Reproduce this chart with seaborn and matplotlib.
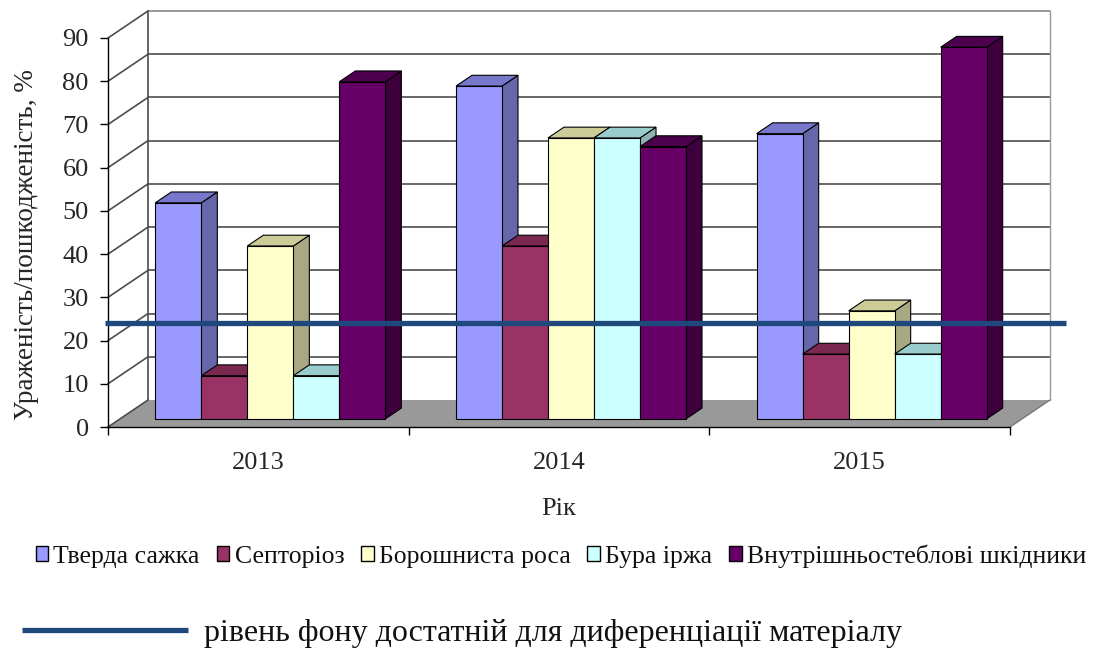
import matplotlib
matplotlib.use("Agg")
import matplotlib.pyplot as plt
import matplotlib.colors as mcolors
import seaborn as sns
import pandas as pd
import numpy as np
from matplotlib.patches import Polygon, Rectangle
from matplotlib.lines import Line2D

# ---------------- data ----------------
years = ["2013", "2014", "2015"]
diseases = ["Тверда сажка", "Септоріоз", "Борошниста роса", "Бура іржа",
            "Внутрішньостеблові шкідники"]
tverda_sazhka = [50, 77, 66]
septorioz = [10, 40, 15]
boroshnysta_rosa = [40, 65, 25]
bura_irzha = [10, 65, 15]
vnutrishnosteblovi = [78, 63, 86]
threshold = 24
threshold_label = "рівень фону достатній для диференціації матеріалу"
y_ticks = [0, 10, 20, 30, 40, 50, 60, 70, 80, 90]
x_label = "Рік"
y_label = "Ураженість/пошкодженість, %"

# ---------------- styles ----------------
face_colors = ["#9999FF", "#993366", "#FFFFCC", "#CCFFFF", "#660066"]
side_colors = ["#6666AA", "#6B2347", "#A8A882", "#8FB3B3", "#3D003D"]
top_colors = ["#7777CC", "#7A2850", "#CCCC99", "#99CCCC", "#4D004D"]
grid_color = "#4d4d4d"
line_color = "#1F497D"

sns.set_theme(style="white")
plt.rcParams["font.family"] = ["Liberation Serif", "DejaVu Serif"]
plt.rcParams["text.color"] = "#111111"

series = [tverda_sazhka, septorioz, boroshnysta_rosa, bura_irzha, vnutrishnosteblovi]
df = pd.DataFrame([
    {"Рік": y, "Хвороба": d, "Значення": vals[i]}
    for d, vals in zip(diseases, series) for i, y in enumerate(years)
])

W, H = 1100, 650
fig = plt.figure(figsize=(W / 100, H / 100), dpi=100)
ax = fig.add_axes([108 / W, 223 / H, 902 / W, 389 / H])

sns.barplot(data=df, x="Рік", y="Значення", hue="Хвороба", order=years,
            hue_order=diseases, palette=face_colors, saturation=1,
            width=0.765, edgecolor="black", linewidth=0.8, ax=ax, legend=True)

handles, labels = ax.get_legend_handles_labels()
if ax.get_legend() is not None:
    ax.get_legend().remove()

ax.set_xlim(-0.5, 2.5)
ax.set_ylim(0, 90)


def px_to_data(dxp, dyp):
    o = ax.transData.transform((0, 0))
    p = ax.transData.inverted().transform((o[0] + dxp, o[1] + dyp))
    return p[0], p[1]


DX, DY = px_to_data(40, 27)          # full depth of the 3D box
SX, SY = 0.3 * DX, 0.3 * DY          # bar position in depth
BX, BY = 0.4 * DX, 0.4 * DY          # bar depth
x_lo, x_hi = ax.get_xlim()
y_top = ax.get_ylim()[1]

# floor
ax.add_patch(Polygon([(x_lo, 0), (x_hi, 0), (x_hi + DX, DY), (x_lo + DX, DY)],
                     closed=True, facecolor="#999999", edgecolor="none",
                     zorder=1, clip_on=False))
# left wall diagonals and back gridlines
for v in y_ticks:
    ax.add_line(Line2D([x_lo, x_lo + DX], [v, v + DY], color=grid_color,
                       lw=1.2, zorder=1.1, clip_on=False))
    if v > 0:
        ax.add_line(Line2D([x_lo + DX, x_hi + DX], [v + DY, v + DY],
                           color=grid_color if v < y_top else "#888888",
                           lw=1.2, zorder=0.9, clip_on=False))
ax.add_line(Line2D([x_lo + DX, x_lo + DX], [DY, y_top + DY], color=grid_color,
                   lw=1.2, zorder=0.9, clip_on=False))
ax.add_line(Line2D([x_hi + DX, x_hi + DX], [DY, y_top + DY], color="#999999",
                   lw=1.0, zorder=0.9, clip_on=False))
ax.add_line(Line2D([x_hi, x_hi + DX], [0, DY], color="#777777",
                   lw=1.0, zorder=1.1, clip_on=False))

# bars -> pseudo 3D
hex_faces = [mcolors.to_hex(c).lower() for c in face_colors]
bars = [p for p in ax.patches if isinstance(p, Rectangle) and p.get_height() > 0
        and mcolors.to_hex(p.get_facecolor()).lower() in hex_faces]
bars.sort(key=lambda p: p.get_x())
for k, p in enumerate(bars):
    hi = hex_faces.index(mcolors.to_hex(p.get_facecolor()).lower())
    x0, w, h = p.get_x(), p.get_width(), p.get_height()
    z = 3 + k * 0.01
    p.set_x(x0 + SX)
    p.set_y(SY)
    p.set_zorder(z)
    p.set_clip_on(False)
    xl, xr = x0 + SX, x0 + w + SX
    side = Polygon([(xr, SY), (xr + BX, SY + BY), (xr + BX, SY + h + BY), (xr, SY + h)],
                   closed=True, facecolor=side_colors[hi], edgecolor="black",
                   lw=0.8, zorder=z - 0.001, clip_on=False)
    top = Polygon([(xl, SY + h), (xl + BX, SY + h + BY), (xr + BX, SY + h + BY), (xr, SY + h)],
                  closed=True, facecolor=top_colors[hi], edgecolor="black",
                  lw=0.8, zorder=z - 0.001, clip_on=False)
    ax.add_patch(side)
    ax.add_patch(top)

# threshold line (2D overlay)
lx0, _ = px_to_data(-3, 0)
lx1, _ = px_to_data(56, 0)
thr_line, = ax.plot([x_lo + lx0, x_hi + lx1], [threshold, threshold],
                    color=line_color, lw=3.8, zorder=10, clip_on=False,
                    solid_capstyle="butt")

# axes styling
for s in ["top", "right"]:
    ax.spines[s].set_visible(False)
for s in ["left", "bottom"]:
    ax.spines[s].set_color("black")
    ax.spines[s].set_linewidth(1.0)
    ax.spines[s].set_zorder(2)
ax.set_yticks(y_ticks)
ax.set_yticklabels([str(v) for v in y_ticks])
ax.tick_params(axis="y", direction="out", length=5.8, width=1, color="black",
               labelsize=19, pad=8, left=True)
ax.set_xticks(range(len(years)))
ax.set_xticklabels(years)
ax.set_xticks([x_lo + i for i in range(len(years) + 1)], minor=True)
ax.tick_params(axis="x", which="major", length=0, labelsize=19, pad=18)
ax.tick_params(axis="x", which="minor", direction="out", length=6, width=1,
               color="black", bottom=True)
ax.set_xlabel(x_label, fontsize=19, labelpad=17)
ax.set_ylabel(y_label, fontsize=19.5)
ax.yaxis.set_label_coords(-0.077, 0.47)
ax.grid(False)
ax.patch.set_alpha(0)

# legends
for hnd in handles:
    hnd.set_edgecolor("black")
    hnd.set_linewidth(1.0)
leg1 = fig.legend(handles, labels, loc="center", bbox_to_anchor=(0.51, 1 - 556 / H),
                  ncol=5, frameon=False, fontsize=18.5, handlelength=0.5,
                  handleheight=0.5, handletextpad=0.2, columnspacing=0.65)
leg2 = fig.legend([thr_line], [threshold_label], loc="center left",
                  bbox_to_anchor=(22 / W, 1 - 633 / H), frameon=False,
                  fontsize=23, handlelength=5.2, handletextpad=0.5,
                  borderpad=0, borderaxespad=0)

fig.savefig("out.png", dpi=100)
